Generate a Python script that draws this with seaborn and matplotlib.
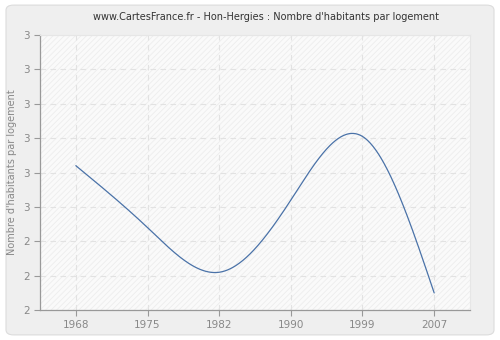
import numpy as np
import pandas as pd
import matplotlib
matplotlib.use("Agg")
import matplotlib.pyplot as plt
import seaborn as sns
from matplotlib.patches import FancyBboxPatch, Rectangle

years = ["1968", "1975", "1982", "1990", "1999", "2007"]
values = [2.62, 2.44, 2.31, 2.52, 2.705, 2.25]
ytick_values = [2.2, 2.3, 2.4, 2.5, 2.6, 2.7, 2.8, 2.9, 3.0]
ytick_labels = ["2", "2", "2", "3", "3", "3", "3", "3", "3"]
title = "www.CartesFrance.fr - Hon-Hergies : Nombre d'habitants par logement"
ylabel = "Nombre d'habitants par logement"


def natural_spline(x, y, n=400):
    x = np.asarray(x, float); y = np.asarray(y, float)
    k = len(x); h = np.diff(x)
    A = np.zeros((k, k)); b = np.zeros(k)
    A[0, 0] = A[-1, -1] = 1
    for i in range(1, k - 1):
        A[i, i - 1] = h[i - 1]; A[i, i] = 2 * (h[i - 1] + h[i]); A[i, i + 1] = h[i]
        b[i] = 3 * ((y[i + 1] - y[i]) / h[i] - (y[i] - y[i - 1]) / h[i - 1])
    c = np.linalg.solve(A, b)
    xs = np.linspace(x[0], x[-1], n); ys = np.empty_like(xs)
    for j, xv in enumerate(xs):
        i = min(np.searchsorted(x, xv, side="right") - 1, k - 2)
        d = xv - x[i]
        bi = (y[i + 1] - y[i]) / h[i] - h[i] * (2 * c[i] + c[i + 1]) / 3
        di = (c[i + 1] - c[i]) / (3 * h[i])
        ys[j] = y[i] + bi * d + c[i] * d ** 2 + di * d ** 3
    return xs, ys


sns.set_style("white")
plt.rcParams["font.family"] = ["DejaVu Sans"]
plt.rcParams["hatch.linewidth"] = 0.6

fig = plt.figure(figsize=(5, 3.4), dpi=100, facecolor="white")
bg = FancyBboxPatch((0.012, 0.015), 0.976, 0.97,
                    boxstyle="round,pad=0,rounding_size=0.015",
                    transform=fig.transFigure, facecolor="#efefef",
                    edgecolor="#dcdcdc", linewidth=0.8, zorder=-10)
fig.patches.append(bg)
ax = fig.add_axes([0.08, 0.088, 0.86, 0.809])
ax.set_zorder(1)
ax.set_facecolor("#fafafa")
ax.add_patch(Rectangle((0, 0), 1, 1, transform=ax.transAxes, facecolor="#fafafa",
                       edgecolor="#ededed", hatch="//////", linewidth=0, zorder=0))

pos = np.arange(len(years))
xs, ys = natural_spline(pos, values)
df = pd.DataFrame({"x": xs, "y": ys})
sns.lineplot(data=df, x="x", y="y", ax=ax, color="#4a72a8", linewidth=0.9, zorder=3)

ax.set_xlim(-0.5, len(years) - 0.5)
ax.set_ylim(2.2, 3.0)
ax.set_xticks(pos)
ax.set_xticklabels(years)
ax.set_yticks(ytick_values)
ax.set_yticklabels(ytick_labels)
ax.grid(True, color="#e2e2e2", linestyle=(0, (5, 4)), linewidth=0.8)
ax.set_axisbelow(True)
for s in ["top", "right"]:
    ax.spines[s].set_color("#e6e6e6")
for s in ["left", "bottom"]:
    ax.spines[s].set_color("#999999")
    ax.spines[s].set_linewidth(0.9)
ax.tick_params(axis="both", length=4, width=0.8, color="#999999",
               labelcolor="#888888", labelsize=7.5, bottom=True, left=True, pad=3)
ax.set_xlabel("")
ax.set_ylabel(ylabel, color="#888888", fontsize=7, labelpad=5)
ax.set_title(title, fontsize=7, color="#333333", pad=11, x=0.525)

fig.savefig("out.png", dpi=100, facecolor=fig.get_facecolor())
